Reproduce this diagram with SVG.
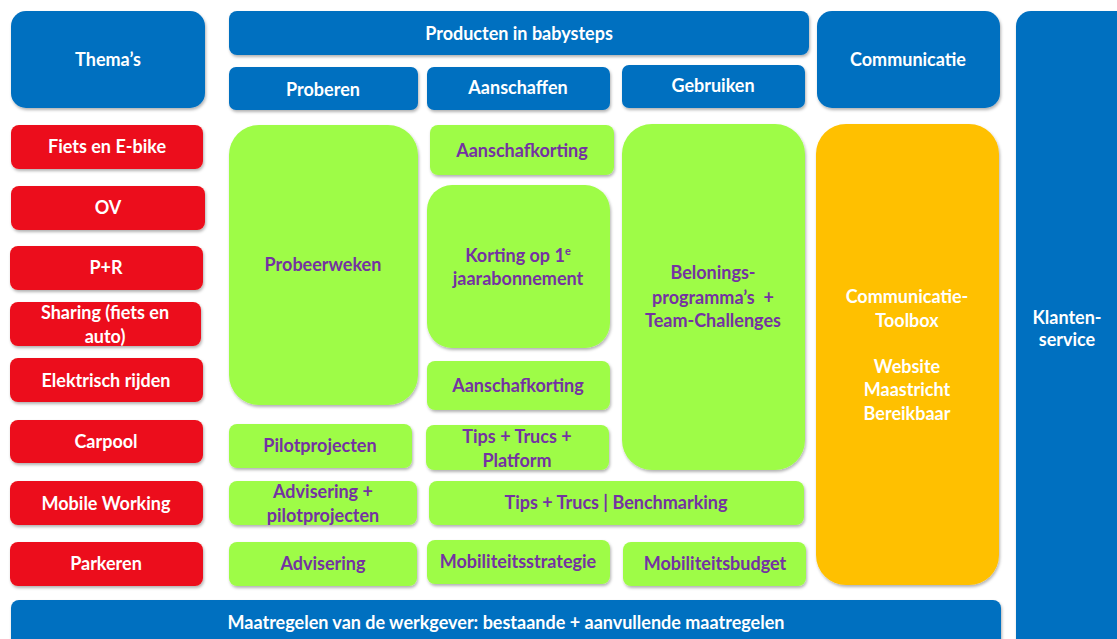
<svg xmlns="http://www.w3.org/2000/svg" width="1117" height="639" viewBox="0 0 1117 639">
<defs>
<filter id="sh" x="-10%" y="-10%" width="130%" height="130%">
<feDropShadow dx="1" dy="2" stdDeviation="1.5" flood-color="#000" flood-opacity="0.3"/>
</filter>
<style>
rect{filter:url(#sh)}
.b{fill:#0070C0}
.r{fill:#EC111A}
.g{fill:#9EFC47}
.y{fill:#FFC000}
text{font-family:Lato,"Open Sans","Liberation Sans",sans-serif;font-weight:bold;font-size:18px;text-anchor:middle}
.w{fill:#FFFFFF}
.p{fill:#7432A2}
</style>
</defs>
<rect x="0" y="0" width="1117" height="639" fill="#FFFFFF" style="filter:none"/>
<g id="themas"><rect class="b" x="11" y="11" width="194" height="97" rx="15"/><text class="w" x="108" y="66">Thema’s</text></g>
<g id="producten"><rect class="b" x="229" y="11" width="580" height="44" rx="8"/><text class="w" x="519" y="40">Producten in babysteps</text></g>
<g id="proberen"><rect class="b" x="229" y="67" width="189" height="43" rx="7"/><text class="w" x="323" y="96">Proberen</text></g>
<g id="aanschaffen"><rect class="b" x="427" y="67" width="183" height="43" rx="7"/><text class="w" x="518" y="94">Aanschaffen</text></g>
<g id="gebruiken"><rect class="b" x="622" y="65" width="183" height="43" rx="7"/><text class="w" x="713" y="92">Gebruiken</text></g>
<g id="communicatie"><rect class="b" x="817" y="11" width="183" height="97" rx="15"/><text class="w" x="908" y="66">Communicatie</text></g>
<g id="klantenservice"><rect class="b" x="1016" y="11" width="120" height="650" rx="15"/><text class="w" x="1067" y="324">Klanten-</text><text class="w" x="1067" y="346">service</text></g>

<g id="fiets"><rect class="r" x="11" y="125" width="192" height="44" rx="8"/><text class="w" x="107" y="153">Fiets en E-bike</text></g>
<g id="ov"><rect class="r" x="11" y="186" width="194" height="44" rx="8"/><text class="w" x="108" y="214">OV</text></g>
<g id="pr"><rect class="r" x="10" y="246" width="193" height="44" rx="8"/><text class="w" x="106" y="274">P+R</text></g>
<g id="sharing"><rect class="r" x="10" y="302" width="191" height="44" rx="8"/><text class="w" x="105" y="319">Sharing (fiets en</text><text class="w" x="105" y="343">auto)</text></g>
<g id="elektrisch"><rect class="r" x="10" y="358" width="193" height="44" rx="8"/><text class="w" x="106" y="387">Elektrisch rijden</text></g>
<g id="carpool"><rect class="r" x="10" y="420" width="193" height="43" rx="8"/><text class="w" x="106" y="448">Carpool</text></g>
<g id="mobile"><rect class="r" x="10" y="481" width="193" height="44" rx="8"/><text class="w" x="106" y="510">Mobile Working</text></g>
<g id="parkeren"><rect class="r" x="10" y="542" width="193" height="44" rx="8"/><text class="w" x="106" y="570">Parkeren</text></g>

<g id="probeerweken"><rect class="g" x="229" y="125" width="189" height="280" rx="30"/><text class="p" x="323" y="271">Probeerweken</text></g>
<g id="aanschafkorting1"><rect class="g" x="430" y="125" width="184" height="50" rx="8"/><text class="p" x="522" y="157">Aanschafkorting</text></g>
<g id="korting"><rect class="g" x="427" y="185" width="183" height="163" rx="25"/><text class="p" x="518" y="262">Korting op 1<tspan font-size="11" dy="-7">e</tspan></text><text class="p" x="518" y="285">jaarabonnement</text></g>
<g id="aanschafkorting2"><rect class="g" x="427" y="361" width="183" height="49" rx="8"/><text class="p" x="518" y="392">Aanschafkorting</text></g>
<g id="belonings"><rect class="g" x="622" y="124" width="183" height="346" rx="30"/><text class="p" x="713" y="279">Belonings-</text><text class="p" x="713" y="304">programma’s&#160; +</text><text class="p" x="713" y="327">Team-Challenges</text></g>
<g id="pilot"><rect class="g" x="229" y="424" width="183" height="44" rx="8"/><text class="p" x="320" y="452">Pilotprojecten</text></g>
<g id="tips1"><rect class="g" x="426" y="425" width="183" height="45" rx="8"/><text class="p" x="517" y="443">Tips + Trucs +</text><text class="p" x="517" y="467">Platform</text></g>
<g id="advpilot"><rect class="g" x="229" y="481" width="188" height="44" rx="8"/><text class="p" x="323" y="498">Advisering +</text><text class="p" x="323" y="522">pilotprojecten</text></g>
<g id="tips2"><rect class="g" x="429" y="481" width="375" height="44" rx="8"/><text class="p" x="616" y="509">Tips + Trucs | Benchmarking</text></g>
<g id="advisering"><rect class="g" x="229" y="542" width="188" height="44" rx="8"/><text class="p" x="323" y="570">Advisering</text></g>
<g id="strategie"><rect class="g" x="427" y="540" width="183" height="44" rx="8"/><text class="p" x="518" y="568">Mobiliteitsstrategie</text></g>
<g id="budget"><rect class="g" x="623" y="542" width="183" height="44" rx="8"/><text class="p" x="715" y="570">Mobiliteitsbudget</text></g>

<g id="toolbox"><rect class="y" x="816" y="124" width="183" height="461" rx="30"/><text class="w" x="907" y="303">Communicatie-</text><text class="w" x="907" y="327">Toolbox</text><text class="w" x="907" y="373">Website</text><text class="w" x="907" y="396">Maastricht</text><text class="w" x="907" y="420">Bereikbaar</text></g>
<g id="maatregelen"><rect class="b" x="11" y="600" width="990" height="60" rx="8"/><text class="w" x="506" y="629">Maatregelen van de werkgever: bestaande + aanvullende maatregelen</text></g>
<g id="connectors"></g>
</svg>
